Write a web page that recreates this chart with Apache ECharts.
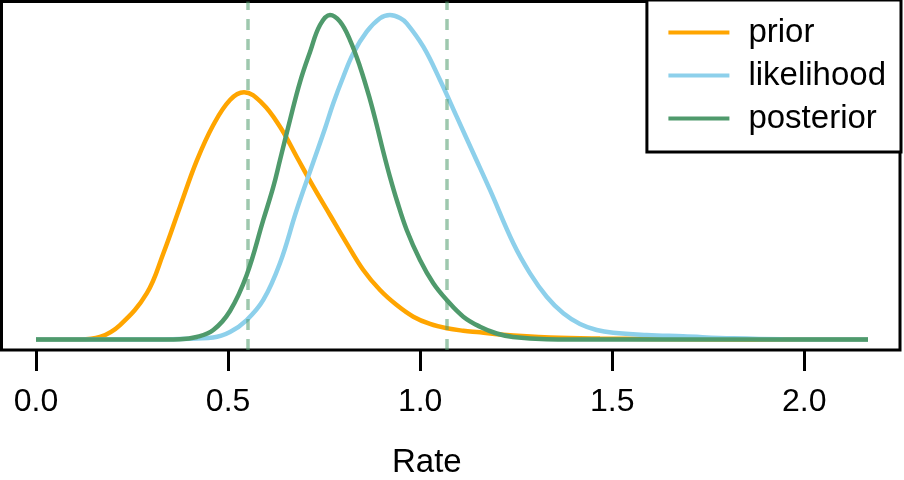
<!DOCTYPE html>
<html>
<head>
<meta charset="utf-8">
<script src="https://cdn.jsdelivr.net/npm/echarts@6/dist/echarts.min.js"></script>
<style>
html,body{margin:0;padding:0;background:#fff;}
#chart{width:904px;height:480px;}
</style>
</head>
<body>
<div id="chart"></div>
<script>
// ---- data ----
var seriesNames = ['prior', 'likelihood', 'posterior'];
var tickValues = [0, 0.5, 1.0, 1.5, 2.0];
var tickLabels = ['0.0', '0.5', '1.0', '1.5', '2.0'];
var xLabel = 'Rate';
var intervalBounds = [0.546, 1.067];

var priorX = [0, 0.1145, 0.1666, 0.2187, 0.2882, 0.3314, 0.3749, 0.4183, 0.4615, 0.5050, 0.5415, 0.5883, 0.6352, 0.6786, 0.7219, 0.7653, 0.8088, 0.8520, 0.8955, 0.9390, 0.9822, 1.0257, 1.0691, 1.1123, 1.1558, 1.2079, 1.3380, 1.4682, 1.7285, 2.1658];
var priorY = [0, 0, 0.024, 0.137, 0.436, 0.814, 1.256, 1.689, 2.029, 2.266, 2.339, 2.237, 2.013, 1.729, 1.446, 1.178, 0.910, 0.658, 0.468, 0.326, 0.216, 0.147, 0.106, 0.083, 0.068, 0.047, 0.019, 0.009, 0.002, 0];

var likeX = [0, 0.2968, 0.3749, 0.4608, 0.5050, 0.5485, 0.5917, 0.6352, 0.6786, 0.7219, 0.7523, 0.7739, 0.8000, 0.8260, 0.8609, 0.8955, 0.9215, 0.9475, 0.9650, 1.0082, 1.0517, 1.0951, 1.1384, 1.1818, 1.2425, 1.2860, 1.3294, 1.3726, 1.4161, 1.4596, 1.5028, 1.5897, 1.6842, 1.8144, 1.9446, 2.1658];
var likeY = [0, 0, 0.005, 0.019, 0.071, 0.184, 0.374, 0.724, 1.225, 1.679, 1.996, 2.235, 2.486, 2.708, 2.912, 3.039, 3.070, 3.042, 2.991, 2.770, 2.455, 2.108, 1.762, 1.415, 0.910, 0.626, 0.405, 0.248, 0.147, 0.090, 0.064, 0.043, 0.030, 0.011, 0.002, 0];

var postX = [0, 0.2968, 0.3749, 0.4183, 0.4615, 0.5050, 0.5485, 0.5917, 0.6177, 0.6352, 0.6612, 0.6872, 0.7133, 0.7393, 0.7653, 0.7914, 0.8174, 0.8434, 0.8695, 0.8869, 0.9042, 0.9215, 0.9390, 0.9650, 0.9996, 1.0342, 1.0691, 1.1123, 1.1558, 1.1993, 1.2417, 1.3294, 1.4682, 2.1658];
var postY = [0, 0, 0.003, 0.024, 0.090, 0.270, 0.610, 1.131, 1.443, 1.698, 2.077, 2.436, 2.720, 2.975, 3.070, 3.007, 2.833, 2.581, 2.270, 2.029, 1.774, 1.537, 1.320, 1.036, 0.752, 0.532, 0.374, 0.216, 0.121, 0.057, 0.024, 0.003, 0, 0];

function pairs(xs, ys) { return xs.map(function (x, i) { return [x, ys[i]]; }); }

var colors = ['#FFA500', '#8DD0EB', '#4F9A6C'];
var FONT = '"Liberation Sans", Arial, Helvetica, sans-serif';

var chart = echarts.init(document.getElementById('chart'), null, {renderer: 'canvas'});
var lineW = 4.5;
function mkSeries(i, xs, ys, z) {
  return {
    name: seriesNames[i], type: 'line', data: pairs(xs, ys),
    showSymbol: false, symbol: 'none', smooth: 0.4, z: z,
    lineStyle: {width: lineW, color: colors[i], opacity: 1},
    itemStyle: {color: colors[i]},
    emphasis: {disabled: true}
  };
}
var post = mkSeries(2, postX, postY, 4);
post.markLine = {
  silent: true, symbol: ['none', 'none'], label: {show: false},
  lineStyle: {color: 'rgba(79,154,108,0.55)', type: [11, 9], width: 3.5},
  emphasis: {disabled: true},
  data: intervalBounds.map(function (b) { return {xAxis: b}; })
};

var option = {
  animation: false,
  backgroundColor: '#fff',
  color: colors,
  grid: {
    left: 1.5, right: 4, top: 1.5, bottom: 130,
    show: true, borderColor: '#000', borderWidth: 3, backgroundColor: 'transparent'
  },
  legend: {
    data: seriesNames,
    right: 3, top: 0,
    orient: 'vertical',
    icon: 'rect',
    itemWidth: 61, itemHeight: 4, itemGap: 8,
    padding: [15, 15, 16, 21.5],
    borderColor: '#000', borderWidth: 3, backgroundColor: '#fff',
    textStyle: {fontFamily: FONT, fontSize: 33, color: '#000', lineHeight: 35, padding: [0, 0, 0, 14]}
  },
  xAxis: {
    type: 'value',
    min: -0.0898, max: 2.2491,
    axisLine: {show: false, onZero: false},
    splitLine: {show: false},
    axisTick: {show: true, customValues: tickValues, length: 21, inside: false, lineStyle: {color: '#000', width: 3}},
    axisLabel: {
      customValues: tickValues,
      margin: 36,
      fontFamily: FONT, fontSize: 32, color: '#000',
      formatter: function (v) { var i = tickValues.indexOf(v); return i >= 0 ? tickLabels[i] : ''; }
    }
  },
  yAxis: {
    type: 'value',
    min: -0.0993, max: 3.1977,
    show: false,
    splitLine: {show: false}
  },
  graphic: [{
    type: 'text', left: 392, top: 446,
    style: {text: xLabel, font: '33px ' + FONT, fill: '#000'}
  }],
  series: [mkSeries(0, priorX, priorY, 2), mkSeries(1, likeX, likeY, 3), post]
};
chart.setOption(option);
</script>
</body>
</html>
